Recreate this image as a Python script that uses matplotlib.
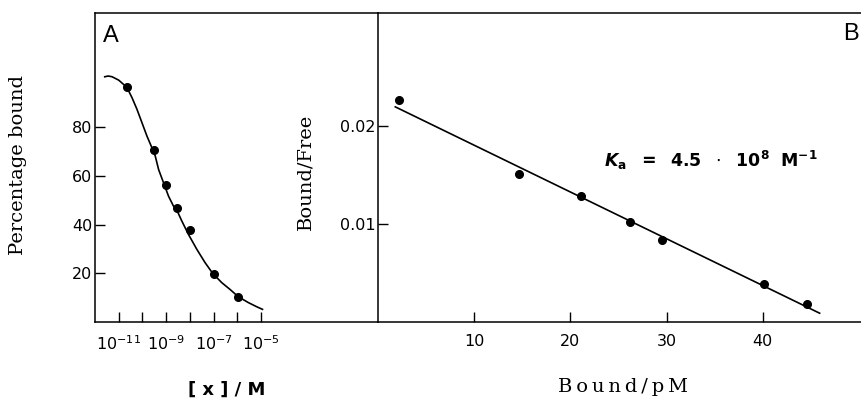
import numpy as np
import matplotlib
matplotlib.use("Agg")
import matplotlib.pyplot as plt
from matplotlib.ticker import FixedLocator, FixedFormatter

plt.rcParams["font.family"] = "DejaVu Sans"
plt.rcParams["mathtext.fontset"] = "dejavusans"

# --- A: wiązanie w funkcji stężenia (skala log) ---
a_conc = [2.2e-11, 3.2e-10, 1.0e-9, 2.8e-9, 1.0e-8, 1.0e-7, 1.1e-6]
a_bound = [96.5, 70.6, 56.3, 46.7, 37.7, 19.9, 10.3]

# krzywa dopasowania (log10 stężenia, % wiązania)
curve_logx = [-11.59, -11.44, -11.28, -11.00, -10.79, -10.65, -10.44, -10.23,
              -10.02, -9.81, -9.60, -9.46, -9.32, -9.11, -8.90, -8.69, -8.58,
              -8.34, -8.06, -7.71, -7.36, -7.04, -6.66, -6.31, -5.96, -5.54,
              -5.19, -4.94]
curve_y = [100.8, 101.1, 100.8, 99.4, 97.6, 96.3, 92.2, 87.4,
           81.9, 76.4, 71.6, 68.2, 62.7, 57.2, 51.7, 47.6, 46.6,
           41.5, 36.0, 29.9, 24.4, 20.0, 16.2, 13.4, 10.4, 8.0,
           6.3, 5.2]

a_xticks = [1e-11, 1e-10, 1e-9, 1e-8, 1e-7, 1e-6, 1e-5]
a_xlabels = [r"$10^{-11}$", "", r"$10^{-9}$", "", r"$10^{-7}$", "", r"$10^{-5}$"]
a_yticks = [20, 40, 60, 80]

# --- B: wykres Scatcharda ---
b_bound = [2.2, 14.7, 21.1, 26.2, 29.5, 40.1, 44.6]
b_ratio = [0.0227, 0.0151, 0.0129, 0.0102, 0.0084, 0.0039, 0.0018]
fit_x = [1.8, 45.9]
fit_y = [0.0220, 0.0009]
b_xticks = [10, 20, 30, 40]
b_yticks = [0.01, 0.02]
b_ylabels = ["0.01", "0.02"]

W, H = 861, 399
fig = plt.figure(figsize=(W / 100, H / 100), dpi=100)

x0, x1, x2 = 95, 378, 861
yb, yt = 322, 13
axA = fig.add_axes([x0 / W, 1 - yb / H, (x1 - x0) / W, (yb - yt) / H])
axB = fig.add_axes([x1 / W, 1 - yb / H, (x2 - x1) / W, (yb - yt) / H])

lw_sp = 1.1
for ax in (axA, axB):
    for s in ax.spines.values():
        s.set_linewidth(lw_sp)
    ax.tick_params(direction="in", length=7, width=1.0, labelsize=11.5)
    ax.tick_params(axis="x", pad=9)
    ax.tick_params(axis="y", pad=2)

# panel A
axA.plot(10 ** np.array(curve_logx), curve_y, color="black", lw=1.2,
         solid_joinstyle="round")
axA.plot(a_conc, a_bound, "o", color="black", ms=5.5)
axA.set_xscale("log")
axA.set_xlim(1e-12, 8.5e-1)
axA.set_ylim(0, 127)
axA.xaxis.set_major_locator(FixedLocator(a_xticks))
axA.xaxis.set_major_formatter(FixedFormatter(a_xlabels))
axA.xaxis.set_minor_locator(FixedLocator([]))
axA.set_yticks(a_yticks)
axA.spines["right"].set_visible(False)
axA.text(0.028, 0.906, "A", transform=axA.transAxes, fontsize=17,
         family="Liberation Sans")

# panel B
axB.plot(fit_x, fit_y, color="black", lw=1.2)
axB.plot(b_bound, b_ratio, "o", color="black", ms=5.5)
axB.set_xlim(0, 50.2)
axB.set_ylim(0, 0.0316)
axB.set_xticks(b_xticks)
axB.set_yticks(b_yticks)
axB.set_yticklabels(b_ylabels)
axB.spines["right"].set_visible(False)
axB.text(0.996, 0.913, "B", transform=axB.transAxes, fontsize=17,
         family="Liberation Sans", ha="right")
axB.text(23.5, 0.0158,
         r"$\mathbfit{K}_{\mathbf{a}}\ \ \mathbf{=}\ \ \mathbf{4.5}\ \ \cdot\ \ "
         r"\mathbf{10}^{\mathbf{8}}\ \ \mathbf{M}^{\mathbf{-1}}$",
         fontsize=12.5)

# opisy osi
serif = "DejaVu Serif"
fig.text(18 / W, 1 - 165 / H, "Percentage bound", rotation=90, ha="center",
         va="center", family=serif, fontsize=14)
fig.text(305 / W, 1 - 172 / H, "Bound/Free", rotation=90, ha="center",
         va="center", family=serif, fontsize=14)
fig.text(227 / W, 1 - 390 / H, "[ x ] / M", ha="center", va="center",
         fontsize=13, fontweight="bold")
fig.text(623 / W, 1 - 387 / H, "\u2009".join("Bound/pM"), ha="center",
         va="center", family=serif, fontsize=14)

fig.savefig("out.png", dpi=100)
